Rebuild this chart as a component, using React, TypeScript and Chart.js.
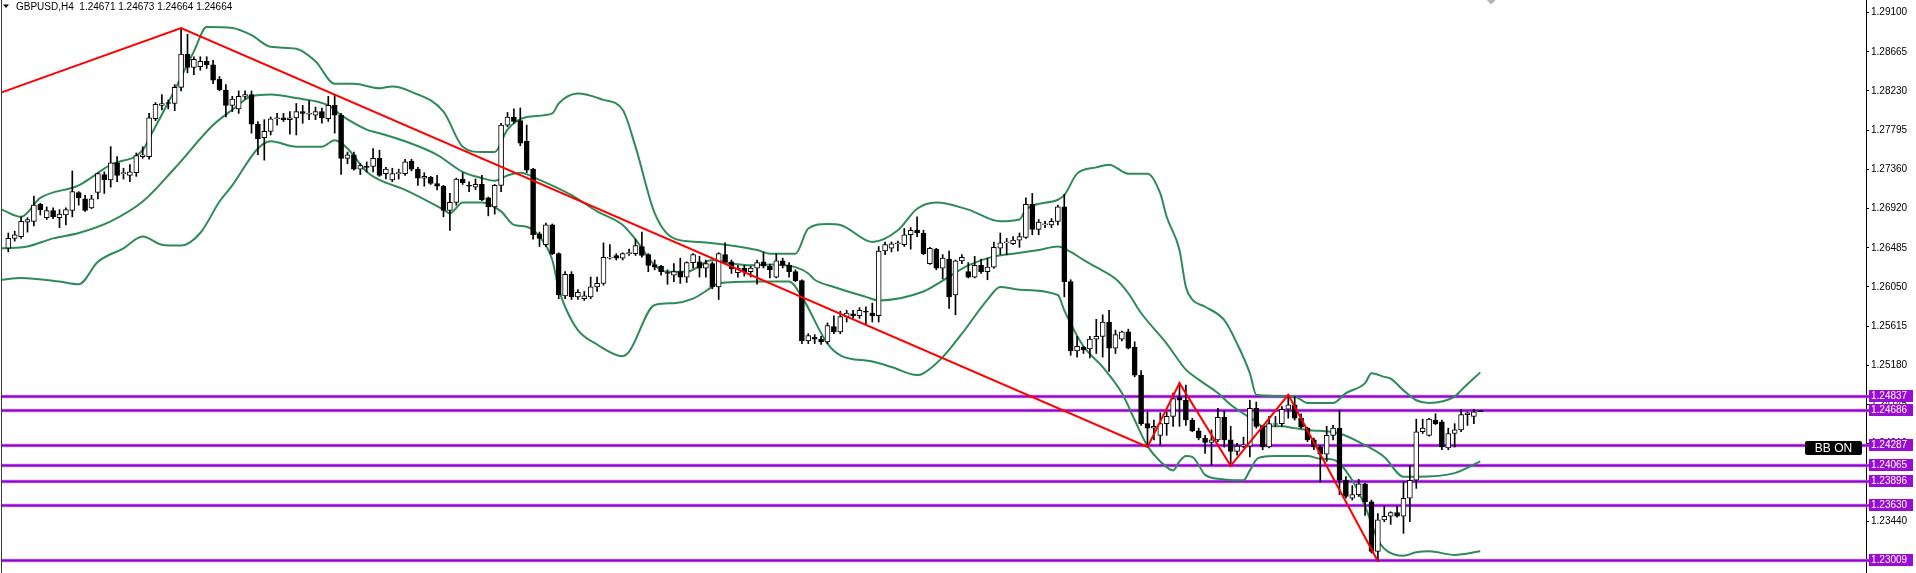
import React, { useEffect, useRef } from 'react';
import { Chart, registerables } from 'chart.js';

Chart.register(...registerables);

const SYMBOL = 'GBPUSD,H4';
const HEADER_QUOTE = '1.24671 1.24673 1.24664 1.24664';
const BADGE = 'BB ON';
const BADGE_LEVEL = 1.24287;

const openP = [
  1.2648,1.2659,1.2661,1.2677,1.2678,1.2697,1.2682,1.2690,1.2682,1.2685,
  1.2690,1.2710,1.2703,1.2693,1.2710,1.2730,1.2724,1.2743,1.2731,1.2729,
  1.2732,1.2750,1.2750,1.2792,1.2807,1.2810,1.2809,1.2827,1.2864,1.2849,
  1.2850,1.2856,1.2852,1.2836,1.2824,1.2807,1.2803,1.2817,1.2819,1.2786,
  1.2771,1.2778,1.2792,1.2793,1.2791,1.2793,1.2800,1.2797,1.2796,1.2800,
  1.2792,1.2807,1.2796,1.2748,1.2752,1.2736,1.2739,1.2739,1.2748,1.2731,
  1.2724,1.2731,1.2731,1.2745,1.2736,1.2726,1.2727,1.2720,1.2717,1.2690,
  1.2699,1.2725,1.2718,1.2716,1.2719,1.2704,1.2694,1.2718,1.2785,1.2794,
  1.2790,1.2767,1.2736,1.2664,1.2652,1.2674,1.2642,1.2595,1.2619,1.2594,
  1.2592,1.2594,1.2605,1.2609,1.2637,1.2640,1.2637,1.2642,1.2642,1.2650,
  1.2641,1.2630,1.2628,1.2621,1.2618,1.2622,1.2616,1.2632,1.2633,1.2626,
  1.2631,1.2605,1.2641,1.2633,1.2621,1.2626,1.2622,1.2626,1.2633,1.2628,
  1.2616,1.2634,1.2629,1.2622,1.2612,1.2545,1.2549,1.2547,1.2544,1.2561,
  1.2555,1.2572,1.2575,1.2573,1.2578,1.2576,1.2573,1.2645,1.2648,1.2653,
  1.2652,1.2663,1.2668,1.2665,1.2631,1.2647,1.2626,1.2636,1.2596,1.2634,
  1.2622,1.2616,1.2629,1.2622,1.2627,1.2648,1.2654,1.2653,1.2657,1.2660,
  1.2697,1.2669,1.2674,1.2674,1.2678,1.2694,1.2611,1.2534,1.2538,1.2536,
  1.2547,1.2550,1.2566,1.2537,1.2547,1.2555,1.2538,1.2507,1.2453,1.2448,
  1.2440,1.2453,1.2461,1.2482,1.2479,1.2457,1.2445,1.2437,1.2432,1.2435,
  1.2460,1.2435,1.2422,1.2428,1.2428,1.2470,1.2450,1.2427,1.2452,1.2453,
  1.2469,1.2474,1.2459,1.2448,1.2435,1.2427,1.2419,1.2440,1.2448,1.2390,
  1.2370,1.2374,1.2386,1.2366,1.2311,1.2346,1.2350,1.2354,1.2350,1.2370,
  1.2390,1.2444,1.2440,1.2457,1.2455,1.2426,1.2442,1.2446,1.2463,1.2461,
  1.24671,
];

const highP = [
  1.2665,1.2667,1.2683,1.2682,1.2706,1.2698,1.2694,1.2693,1.2691,1.2693,
  1.2734,1.2711,1.2707,1.2707,1.2732,1.2733,1.2761,1.2750,1.2737,1.2741,
  1.2754,1.2761,1.2798,1.2810,1.2819,1.2813,1.2830,1.2893,1.2886,1.2861,
  1.2861,1.2861,1.2857,1.2839,1.2830,1.2817,1.2823,1.2823,1.2823,1.2789,
  1.2791,1.2794,1.2798,1.2798,1.2800,1.2809,1.2807,1.2812,1.2805,1.2804,
  1.2817,1.2819,1.2798,1.2755,1.2755,1.2742,1.2744,1.2759,1.2757,1.2738,
  1.2737,1.2736,1.2747,1.2747,1.2738,1.2732,1.2728,1.2729,1.2718,1.2709,
  1.2726,1.2732,1.2722,1.2725,1.2729,1.2705,1.2719,1.2787,1.2799,1.2803,
  1.2804,1.2785,1.2737,1.2666,1.2676,1.2675,1.2643,1.2622,1.2622,1.2602,
  1.2600,1.2616,1.2616,1.2654,1.2652,1.2642,1.2643,1.2647,1.2658,1.2666,
  1.2642,1.2635,1.2629,1.2624,1.2631,1.2637,1.2633,1.2642,1.2639,1.2635,
  1.2633,1.2643,1.2654,1.2635,1.2629,1.2629,1.2628,1.2635,1.2644,1.2630,
  1.2642,1.2637,1.2632,1.2624,1.2613,1.2553,1.2552,1.2550,1.2565,1.2573,
  1.2578,1.2579,1.2579,1.2582,1.2583,1.2587,1.2650,1.2655,1.2655,1.2656,
  1.2670,1.2671,1.2683,1.2668,1.2649,1.2648,1.2641,1.2645,1.2635,1.2641,
  1.2632,1.2639,1.2636,1.2637,1.2655,1.2665,1.2659,1.2661,1.2665,1.2704,
  1.2709,1.2680,1.2678,1.2681,1.2696,1.2708,1.2613,1.2550,1.2539,1.2550,
  1.2569,1.2574,1.2579,1.2557,1.2556,1.2558,1.2544,1.2512,1.2466,1.2457,
  1.2465,1.2466,1.2487,1.2498,1.2496,1.2459,1.2448,1.2440,1.2446,1.2470,
  1.2467,1.2450,1.2431,1.2438,1.2479,1.2477,1.2451,1.2461,1.2461,1.2472,
  1.2485,1.2483,1.2464,1.2449,1.2437,1.2429,1.2450,1.2451,1.2468,1.2394,
  1.2384,1.2391,1.2387,1.2368,1.2353,1.2361,1.2355,1.2361,1.2388,1.2406,
  1.2458,1.2458,1.2459,1.2464,1.2457,1.2448,1.2453,1.2469,1.2466,1.2469,
  1.24673,
];

const lowP = [
  1.2644,1.2656,1.2659,1.2666,1.2673,1.2685,1.2680,1.2681,1.2671,1.2674,
  1.2683,1.2696,1.2689,1.2692,1.2703,1.2709,1.2716,1.2722,1.2725,1.2722,
  1.2728,1.2748,1.2747,1.2790,1.2802,1.2803,1.2801,1.2823,1.2843,1.2841,
  1.2846,1.2848,1.2831,1.2823,1.2794,1.2800,1.2798,1.2814,1.2776,1.2752,
  1.2746,1.2774,1.2785,1.2789,1.2775,1.2774,1.2787,1.2791,1.2791,1.2787,
  1.2789,1.2776,1.2730,1.2742,1.2735,1.2730,1.2733,1.2733,1.2728,1.2725,
  1.2722,1.2725,1.2729,1.2734,1.2718,1.2717,1.2719,1.2713,1.2683,1.2668,
  1.2696,1.2719,1.2711,1.2713,1.2701,1.2684,1.2686,1.2711,1.2783,1.2787,
  1.2762,1.2732,1.2658,1.2650,1.2650,1.2641,1.2592,1.2592,1.2591,1.2591,
  1.2590,1.2592,1.2600,1.2607,1.2636,1.2635,1.2635,1.2640,1.2640,1.2638,
  1.2622,1.2624,1.2618,1.2608,1.2611,1.2609,1.2610,1.2626,1.2616,1.2616,
  1.2603,1.2591,1.2631,1.2620,1.2616,1.2617,1.2616,1.2608,1.2626,1.2615,
  1.2615,1.2626,1.2616,1.2611,1.2542,1.2542,1.2542,1.2541,1.2542,1.2553,
  1.2553,1.2566,1.2570,1.2570,1.2563,1.2566,1.2566,1.2641,1.2644,1.2645,
  1.2650,1.2647,1.2661,1.2641,1.2630,1.2624,1.2614,1.2581,1.2574,1.2631,
  1.2615,1.2615,1.2620,1.2613,1.2626,1.2641,1.2641,1.2652,1.2649,1.2659,
  1.2663,1.2663,1.2671,1.2671,1.2674,1.2594,1.2529,1.2527,1.2531,1.2526,
  1.2531,1.2527,1.2511,1.2531,1.2545,1.2536,1.2505,1.2451,1.2427,1.2435,
  1.2429,1.2440,1.2450,1.2450,1.2451,1.2444,1.2435,1.2420,1.2407,1.2433,
  1.2427,1.2406,1.2418,1.2426,1.2416,1.2448,1.2424,1.2426,1.2450,1.2450,
  1.2459,1.2457,1.2448,1.2433,1.2424,1.2388,1.2411,1.2435,1.2374,1.2370,
  1.2368,1.2372,1.2351,1.2309,1.2300,1.2344,1.2341,1.2349,1.2331,1.2344,
  1.2381,1.2442,1.2439,1.2452,1.2424,1.2424,1.2427,1.2444,1.2451,1.2453,
  1.24664,
];

const closeP = [
  1.2659,1.2663,1.2678,1.2680,1.2696,1.2691,1.2690,1.2683,1.2686,1.2691,
  1.2711,1.2704,1.2690,1.2703,1.2731,1.2724,1.2743,1.2729,1.2732,1.2733,
  1.2751,1.2752,1.2793,1.2808,1.2809,1.2809,1.2827,1.2864,1.2849,1.2858,
  1.2856,1.2852,1.2835,1.2824,1.2807,1.2814,1.2817,1.2819,1.2786,1.2770,
  1.2778,1.2792,1.2793,1.2791,1.2793,1.2800,1.2798,1.2798,1.2800,1.2793,
  1.2807,1.2796,1.2748,1.2752,1.2736,1.2740,1.2738,1.2748,1.2729,1.2736,
  1.2731,1.2732,1.2744,1.2736,1.2726,1.2728,1.2720,1.2717,1.2690,1.2699,
  1.2725,1.2721,1.2717,1.2719,1.2702,1.2694,1.2718,1.2785,1.2794,1.2789,
  1.2765,1.2735,1.2663,1.2659,1.2674,1.2642,1.2596,1.2619,1.2594,1.2599,
  1.2595,1.2605,1.2609,1.2638,1.2638,1.2637,1.2642,1.2643,1.2651,1.2640,
  1.2629,1.2627,1.2622,1.2620,1.2622,1.2616,1.2632,1.2641,1.2626,1.2631,
  1.2605,1.2642,1.2633,1.2625,1.2626,1.2622,1.2626,1.2632,1.2628,1.2624,
  1.2634,1.2629,1.2622,1.2612,1.2545,1.2551,1.2547,1.2544,1.2562,1.2555,
  1.2572,1.2576,1.2573,1.2579,1.2577,1.2573,1.2645,1.2652,1.2653,1.2654,
  1.2663,1.2668,1.2665,1.2642,1.2648,1.2626,1.2637,1.2594,1.2634,1.2638,
  1.2616,1.2629,1.2622,1.2627,1.2649,1.2654,1.2655,1.2657,1.2661,1.2697,
  1.2669,1.2677,1.2675,1.2678,1.2694,1.2611,1.2534,1.2539,1.2535,1.2547,
  1.2550,1.2566,1.2537,1.2552,1.2555,1.2537,1.2507,1.2453,1.2448,1.2450,
  1.2453,1.2461,1.2481,1.2479,1.2457,1.2445,1.2437,1.2432,1.2435,1.2460,
  1.2435,1.2422,1.2428,1.2429,1.2470,1.2450,1.2427,1.2453,1.2453,1.2469,
  1.2474,1.2459,1.2449,1.2435,1.2427,1.2419,1.2440,1.2448,1.2390,1.2372,
  1.2374,1.2386,1.2366,1.2311,1.2346,1.2350,1.2354,1.2350,1.2370,1.2390,
  1.2444,1.2448,1.2458,1.2453,1.2427,1.2442,1.2446,1.2463,1.2465,1.2466,
  1.24664,
];

// Bollinger bands: [bar index, price]
const bbUpper: [number, number][] = [
  [-1,1.2691],[2,1.2683],[5,1.2704],[11,1.2718],[16,1.2741],[21,1.2757],[22,1.2770],[26,1.2824],[29,1.2867],[31,1.2894],
  [35,1.2893],[38,1.2885],[41,1.2872],[45,1.2870],[48,1.2856],[51,1.2831],[54,1.2831],[58,1.2826],[60,1.2828],[63,1.2822],
  [68,1.2800],[71,1.2761],[74,1.2755],[76,1.2755],[78,1.2780],[81,1.2794],[85,1.2798],[86,1.2809],[89,1.2820],[93,1.2813],
  [96,1.2802],[98,1.2761],[101,1.2687],[104,1.2659],[108,1.2655],[114,1.2650],[117,1.2646],[119,1.2642],[123,1.2642],[125,1.2670],
  [128,1.2675],[130,1.2674],[135,1.2655],[139,1.2668],[142,1.2692],[145,1.2699],[150,1.2691],[155,1.2678],[158,1.2680],[159,1.2691],
  [164,1.2702],[165,1.2707],[167,1.2731],[170,1.2738],[172,1.2741],[175,1.2731],[178,1.2731],[180,1.2709],[181,1.2683],[183,1.2646],
  [184,1.2605],[185,1.2591],[187,1.2583],[190,1.2568],[192,1.2542],[194,1.2509],[195,1.2485],[201,1.2483],[203,1.2476],[207,1.2476],
  [209,1.2487],[212,1.2498],[213,1.2509],[215,1.2505],[216,1.2503],[218,1.2490],[220,1.2479],[222,1.2476],[226,1.2483],[227,1.2490],
  [230,1.2510],
];

const bbMiddle: [number, number][] = [
  [-1,1.2648],[3,1.2650],[7,1.2659],[11,1.2665],[16,1.2678],[21,1.2700],[26,1.2737],[32,1.2785],[35,1.2802],[38,1.2817],
  [41,1.2819],[45,1.2815],[50,1.2807],[52,1.2796],[56,1.2780],[58,1.2776],[62,1.2767],[67,1.2752],[71,1.2733],[74,1.2726],
  [76,1.2723],[78,1.2729],[80,1.2732],[83,1.2724],[88,1.2707],[92,1.2689],[96,1.2674],[98,1.2658],[101,1.2629],[103,1.2622],
  [106,1.2622],[110,1.2635],[113,1.2631],[116,1.2629],[119,1.2630],[123,1.2627],[125,1.2620],[126,1.2613],[129,1.2605],[134,1.2594],
  [136,1.2590],[143,1.2600],[146,1.2612],[150,1.2629],[154,1.2639],[157,1.2642],[161,1.2646],[164,1.2650],[166,1.2644],[168,1.2635],
  [170,1.2627],[173,1.2614],[175,1.2598],[177,1.2576],[181,1.2542],[184,1.2513],[186,1.2502],[189,1.2487],[191,1.2474],[195,1.2455],
  [196,1.2450],[199,1.2450],[201,1.2448],[203,1.2446],[208,1.2442],[212,1.2429],[215,1.2416],[218,1.2394],[220,1.2394],[226,1.2398],
  [230,1.2411],
];

const bbLower: [number, number][] = [
  [-1,1.2613],[2,1.2615],[8,1.2611],[11,1.2608],[14,1.2633],[18,1.2648],[21,1.2661],[24,1.2652],[27,1.2651],[30,1.2665],
  [33,1.2700],[35,1.2718],[39,1.2759],[41,1.2767],[45,1.2761],[49,1.2761],[51,1.2768],[53,1.2759],[56,1.2733],[58,1.2724],
  [62,1.2713],[68,1.2691],[69,1.2687],[71,1.2699],[74,1.2699],[77,1.2689],[79,1.2674],[81,1.2672],[83,1.2661],[85,1.2635],
  [86,1.2603],[87,1.2583],[89,1.2557],[92,1.2541],[96,1.2528],[97,1.2533],[101,1.2585],[104,1.2587],[107,1.2592],[110,1.2605],
  [111,1.2609],[117,1.2611],[122,1.2611],[124,1.2594],[128,1.2542],[130,1.2529],[135,1.2522],[138,1.2516],[142,1.2507],[143,1.2509],
  [146,1.2527],[149,1.2553],[153,1.2591],[155,1.2605],[158,1.2602],[164,1.2596],[165,1.2579],[168,1.2539],[171,1.2516],[174,1.2487],
  [176,1.2457],[178,1.2428],[180,1.2411],[182,1.2401],[183,1.2411],[184,1.2417],[185,1.2416],[186,1.2407],[187,1.2396],[190,1.2391],
  [193,1.2390],[194,1.2401],[195,1.2413],[196,1.2416],[198,1.2417],[203,1.2417],[205,1.2414],[207,1.2413],[210,1.2390],[212,1.2361],
  [214,1.2324],[215,1.2314],[218,1.2306],[220,1.2310],[222,1.2311],[226,1.2307],[230,1.2311],
];

const zigzag: [number, number][] = [
  [-1.2,1.2821],[27,1.2893],[178,1.2427],[183,1.2498],[191,1.2406],[200,1.2485],[214,1.2300],
];

const levels = [1.24837, 1.24686, 1.24287, 1.24065, 1.23896, 1.2363, 1.23009];

const yTicks = [1.291, 1.28665, 1.2823, 1.27795, 1.2736, 1.2692, 1.26485, 1.2605, 1.25615, 1.2518, 1.24745, 1.2431, 1.23875, 1.2344, 1.23005];

const Y_MIN = 1.22869;
const Y_MAX = 1.29241;
const X_MIN = -0.984;
const X_MAX = 290.27;
const SHIFT_MARK = 231.7;

export default function App() {
  const ref = useRef<HTMLCanvasElement>(null);

  useEffect(() => {
    document.body.style.margin = '0';
    const canvas = ref.current as HTMLCanvasElement;
    const idx = openP.map((_, i) => i);
    const bull = idx.map((i) => closeP[i] >= openP[i]);

    const overlay = {
      id: 'mt4overlay',
      beforeDatasetsDraw(chart: any) {
        const ctx = chart.ctx as CanvasRenderingContext2D;
        const ys = chart.scales.y;
        const left = chart.chartArea.left;
        const right = ys.left + 4;
        ctx.save();
        levels.forEach((lv) => {
          const y = Math.round(ys.getPixelForValue(lv)) + 0.5;
          ctx.strokeStyle = 'rgba(190,120,230,0.9)';
          ctx.lineWidth = 3.5;
          ctx.beginPath();
          ctx.moveTo(left, y);
          ctx.lineTo(right, y);
          ctx.stroke();
          ctx.strokeStyle = '#9400D3';
          ctx.lineWidth = 2;
          ctx.beginPath();
          ctx.moveTo(left, y);
          ctx.lineTo(right, y);
          ctx.stroke();
        });
        ctx.restore();
      },
      afterDraw(chart: any) {
        const ctx = chart.ctx as CanvasRenderingContext2D;
        const ys = chart.scales.y;
        const xs = chart.scales.x;
        const area = chart.chartArea;
        ctx.save();
        // left frame
        ctx.fillStyle = '#3a3a3a';
        ctx.fillRect(area.left - 1, 0, 1, chart.height);
        // header
        ctx.fillStyle = '#000';
        ctx.beginPath();
        ctx.moveTo(3, 4.5);
        ctx.lineTo(9, 4.5);
        ctx.lineTo(6, 8);
        ctx.closePath();
        ctx.fill();
        ctx.font = '10px "Liberation Sans", Arial, sans-serif';
        ctx.textBaseline = 'middle';
        ctx.textAlign = 'left';
        ctx.fillText(SYMBOL + '  ' + HEADER_QUOTE, 16, 7);
        // chart shift marker
        const sx = xs.getPixelForValue(SHIFT_MARK);
        ctx.fillStyle = '#b4b4b4';
        ctx.beginPath();
        ctx.moveTo(sx - 4.5, 0);
        ctx.lineTo(sx + 4.5, 0);
        ctx.lineTo(sx, 4.5);
        ctx.closePath();
        ctx.fill();
        // level labels
        const bx = ys.left + 3;
        levels.forEach((lv) => {
          const y = Math.round(ys.getPixelForValue(lv));
          ctx.fillStyle = '#9A0CD4';
          ctx.fillRect(bx, y - 6, 44, 12);
          ctx.fillStyle = '#ffffff';
          ctx.font = '10px "Liberation Sans", Arial, sans-serif';
          ctx.textBaseline = 'middle';
          ctx.textAlign = 'left';
          ctx.fillText(lv.toFixed(5), bx + 2, y + 0.5);
        });
        // BB ON badge
        const by = Math.round(ys.getPixelForValue(BADGE_LEVEL)) + 3;
        const bw = 57;
        const bh = 14;
        const bxr = ys.left - 4;
        ctx.fillStyle = '#000';
        ctx.beginPath();
        (ctx as any).roundRect(bxr - bw, by - bh / 2, bw, bh, 2);
        ctx.fill();
        ctx.fillStyle = '#ffffff';
        ctx.font = '12px "Liberation Sans", Arial, sans-serif';
        ctx.textAlign = 'center';
        ctx.textBaseline = 'middle';
        ctx.fillText(BADGE, bxr - bw / 2, by + 0.5);
        ctx.restore();
      },
    };

    const bandStyle = {
      type: 'line' as const,
      borderColor: '#2E8B57',
      borderWidth: 2,
      pointRadius: 0,
      cubicInterpolationMode: 'monotone' as const,
      fill: false,
      order: 3,
    };

    const chart = new Chart(canvas, {
      type: 'bar',
      data: {
        datasets: [
          {
            type: 'line',
            label: 'ZigZag',
            data: zigzag.map(([x, y]) => ({ x, y })),
            borderColor: '#FF0000',
            borderWidth: 2,
            pointRadius: 0,
            tension: 0,
            order: 0,
          } as any,
          {
            type: 'bar',
            label: 'Body',
            data: idx.map((i) => ({ x: i, y: [openP[i], closeP[i]] })),
            backgroundColor: idx.map((i) => (bull[i] ? '#FFFFFF' : '#000000')),
            borderColor: '#000000',
            borderWidth: 1,
            borderSkipped: false,
            barThickness: 5,
            minBarLength: 1,
            grouped: false,
            order: 1,
          } as any,
          {
            type: 'bar',
            label: 'Wick',
            data: idx.map((i) => ({ x: i, y: [lowP[i], highP[i]] })),
            backgroundColor: '#000000',
            barThickness: 1,
            grouped: false,
            order: 2,
          } as any,
          { ...bandStyle, label: 'BB Upper', data: bbUpper.map(([x, y]) => ({ x, y })) } as any,
          { ...bandStyle, label: 'BB Middle', data: bbMiddle.map(([x, y]) => ({ x, y })) } as any,
          { ...bandStyle, label: 'BB Lower', data: bbLower.map(([x, y]) => ({ x, y })) } as any,
        ],
      },
      options: {
        responsive: false,
        animation: false,
        devicePixelRatio: 1,
        events: [],
        layout: { padding: { left: 2, top: 0, right: 0, bottom: 0 } },
        plugins: {
          legend: { display: false },
          tooltip: { enabled: false },
          title: { display: false },
        },
        scales: {
          x: {
            type: 'linear',
            display: false,
            min: X_MIN,
            max: X_MAX,
            offset: false,
            grid: { display: false },
          },
          y: {
            type: 'linear',
            position: 'right',
            min: Y_MIN,
            max: Y_MAX,
            afterBuildTicks: (scale: any) => {
              scale.ticks = yTicks.map((v) => ({ value: v }));
            },
            afterFit: (scale: any) => {
              scale.width = 50;
              scale.paddingTop = 0;
              scale.paddingBottom = 0;
            },
            ticks: {
              autoSkip: false,
              padding: 2,
              color: '#000000',
              font: { family: '"Liberation Sans", Arial, sans-serif', size: 10 },
              callback: (v: any) => Number(v).toFixed(5),
            },
            grid: {
              display: true,
              drawOnChartArea: false,
              drawTicks: true,
              tickLength: 3,
              color: '#000000',
            },
            border: { display: true, color: '#000000', width: 1 },
          },
        },
      } as any,
      plugins: [overlay],
    });

    return () => chart.destroy();
  }, []);

  return (
    <div style={{ position: 'absolute', left: 0, top: 0, width: 1916, height: 573, background: '#ffffff' }}>
      <canvas ref={ref} width={1916} height={573} style={{ display: 'block' }} />
    </div>
  );
}
